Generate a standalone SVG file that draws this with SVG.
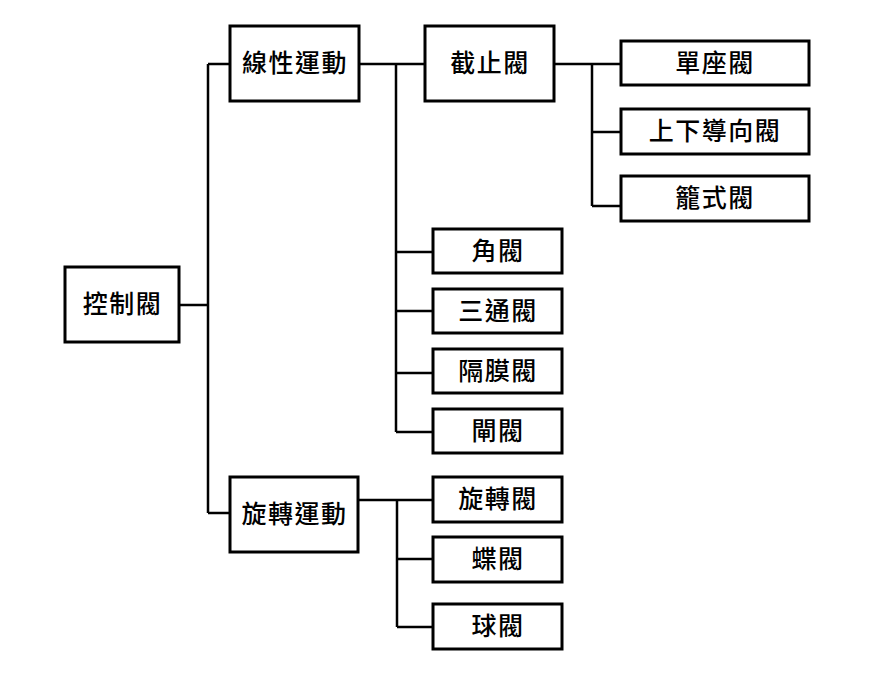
<svg xmlns="http://www.w3.org/2000/svg" width="884" height="675" viewBox="0 0 884 675">
<style>
.box{fill:#fff;stroke:#000;stroke-width:3}
.lbl{font-family:"Noto Sans CJK TC","Noto Sans CJK SC",sans-serif;font-size:25px;font-weight:500;letter-spacing:1.5px;text-anchor:middle;dominant-baseline:central;fill:#000}
.conn{fill:none;stroke:#000;stroke-width:2.5}
</style>
<rect width="884" height="675" fill="#fff"/>
<g id="connectors">
<path class="conn" d="M179,305H208M208,64V513M208,64H230M208,513H230"/>
<path class="conn" d="M359,64H425M396,64V432M396,252H433M396,311H433M396,373H433M396,432H433"/>
<path class="conn" d="M554,64H621M592,64V206M592,132H621M592,206H621"/>
<path class="conn" d="M358,500H433M397,500V627M397,559H433M397,627H433"/>
</g>
<g id="n-control"><rect class="box" x="65" y="267" width="114" height="75"/><text class="lbl" x="122.5" y="302">控制閥</text></g>
<g id="n-linear"><rect class="box" x="230" y="26" width="129" height="75"/><text class="lbl" x="295" y="61">線性運動</text></g>
<g id="n-rotary"><rect class="box" x="230" y="477" width="128" height="75"/><text class="lbl" x="294.5" y="512">旋轉運動</text></g>
<g id="n-globe"><rect class="box" x="425" y="26" width="129" height="75"/><text class="lbl" x="490" y="61">截止閥</text></g>
<g id="n-single"><rect class="box" x="621" y="41" width="188" height="44"/><text class="lbl" x="715" y="61">單座閥</text></g>
<g id="n-guided"><rect class="box" x="621" y="109" width="188" height="45"/><text class="lbl" x="715" y="129">上下導向閥</text></g>
<g id="n-cage"><rect class="box" x="621" y="176" width="188" height="45"/><text class="lbl" x="715" y="196">籠式閥</text></g>
<g id="n-angle"><rect class="box" x="433" y="229" width="129" height="44"/><text class="lbl" x="498" y="249">角閥</text></g>
<g id="n-threeway"><rect class="box" x="433" y="289" width="129" height="44"/><text class="lbl" x="498" y="309">三通閥</text></g>
<g id="n-diaphragm"><rect class="box" x="433" y="349" width="129" height="44"/><text class="lbl" x="498" y="369">隔膜閥</text></g>
<g id="n-gate"><rect class="box" x="433" y="409" width="129" height="44"/><text class="lbl" x="498" y="429">閘閥</text></g>
<g id="n-rotaryvalve"><rect class="box" x="433" y="477" width="129" height="45"/><text class="lbl" x="498" y="497">旋轉閥</text></g>
<g id="n-butterfly"><rect class="box" x="433" y="537" width="129" height="45"/><text class="lbl" x="498" y="557">蝶閥</text></g>
<g id="n-ball"><rect class="box" x="433" y="604" width="129" height="45"/><text class="lbl" x="498" y="624">球閥</text></g>
</svg>
